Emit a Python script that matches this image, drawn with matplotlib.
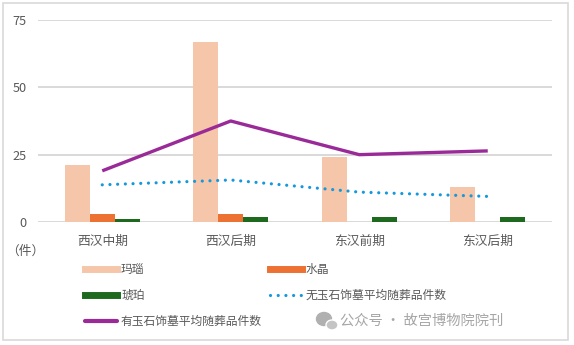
import matplotlib
matplotlib.use("Agg")
import matplotlib.pyplot as plt
import numpy as np
from matplotlib.lines import Line2D
from matplotlib.patches import Rectangle, Ellipse

plt.rcParams['font.family'] = ['Noto Sans CJK SC', 'DejaVu Sans']

periods = ["西汉中期", "西汉后期", "东汉前期", "东汉后期"]
agate = [21, 67, 24, 13]          # 玛瑙
crystal = [3, 3, 0, 0]            # 水晶
amber = [1, 2, 2, 2]              # 琥珀
avg_without = [13.8, 15.6, 11.1, 9.5]   # 无玉石饰墓平均随葬品件数
avg_with = [19.0, 37.5, 25.0, 26.4]     # 有玉石饰墓平均随葬品件数
yticks = [0, 25, 50, 75]

c_agate = "#f5c6a9"
c_crystal = "#ed7132"
c_amber = "#1d6a1f"
c_without = "#1598dc"
c_with = "#9a2a98"
c_text = "#595959"
c_grid = "#d9d9d9"

W, H = 574, 345
fig = plt.figure(figsize=(W / 100, H / 100), dpi=100)
ax = fig.add_axes([38 / W, 1 - 222 / H, (552 - 38) / W, (222 - 20) / H])

x = np.arange(len(periods))
bw = 0.195
ax.bar(x - bw, agate, bw, color=c_agate, zorder=2)
ax.bar(x, crystal, bw, color=c_crystal, zorder=2)
ax.bar(x + bw, amber, bw, color=c_amber, zorder=2)
ax.plot(x, avg_without, color=c_without, lw=2.3, linestyle=(0, (0.01, 2.4)),
        dash_capstyle="round", zorder=3)
ax.plot(x, avg_with, color=c_with, lw=2.4, solid_capstyle="butt", zorder=4)

ax.set_xlim(-0.5, len(periods) - 0.5)
ax.set_ylim(0, 75)
ax.set_yticks(yticks)
ax.set_xticks(x, periods)
for s in ax.spines.values():
    s.set_visible(False)
ax.grid(axis="y", color=c_grid, lw=1.4, zorder=0)
ax.set_axisbelow(True)
ax.tick_params(axis="both", length=0, labelsize=9.2, colors=c_text)
ax.tick_params(axis="y", pad=8)
ax.tick_params(axis="x", pad=9)

fig.text(6 / W, 1 - 251 / H, "（件）", fontsize=9.2, color=c_text, va="center", ha="left")

handles = [
    Line2D([], [], color=c_agate, lw=5),
    Line2D([], [], color=c_amber, lw=5),
    Line2D([], [], color=c_with, lw=3, solid_capstyle="round"),
    Line2D([], [], color=c_crystal, lw=5),
    Line2D([], [], color=c_without, lw=2.3, linestyle=(0, (0.01, 2.4)), dash_capstyle="round"),
]
labels = ["玛瑙", "琥珀", "有玉石饰墓平均随葬品件数", "水晶", "无玉石饰墓平均随葬品件数"]
leg = fig.legend(handles, labels, ncol=2, loc="upper left",
                 bbox_to_anchor=(85 / W, 1 - 263 / H), frameon=False,
                 fontsize=8.5, handlelength=2.7, handletextpad=0.35,
                 columnspacing=0.65, labelspacing=1.12, borderaxespad=0, borderpad=0)
for t in leg.get_texts():
    t.set_color(c_text)

# watermark
fig.text(340 / W, 1 - 321 / H, "公众号 · 故宫博物院院刊", fontsize=10.3,
         color="#a6a6a6", va="center", ha="left")
fig.patches.append(Ellipse((324 / W, 1 - 319 / H), 15 / W, 13 / H,
                           transform=fig.transFigure, color="#b0b0b0"))
fig.patches.append(Ellipse((332 / W, 1 - 325 / H), 12 / W, 10 / H,
                           transform=fig.transFigure, color="#c4c4c4", ec="white", lw=1))

fig.patches.append(Rectangle((2.5 / W, 1 - 340 / H), (568 - 2.5) / W, (340 - 2.5) / H,
                             transform=fig.transFigure, fill=False,
                             ec=c_grid, lw=1.2))

fig.savefig("out.png", dpi=100)
